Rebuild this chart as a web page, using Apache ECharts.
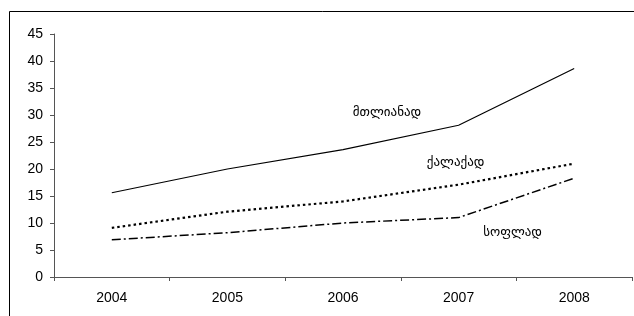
<!DOCTYPE html>
<html>
<head>
<meta charset="utf-8">
<script src="https://cdn.jsdelivr.net/npm/echarts@6/dist/echarts.min.js"></script>
<style>
  html, body { margin: 0; padding: 0; background: #fff; }
  #chart { width: 634px; height: 316px; }
</style>
</head>
<body>
<div id="chart"></div>
<script>
const years = ['2004', '2005', '2006', '2007', '2008']
const total = [15.6, 20.0, 23.6, 28.1, 38.6]
const urban = [9.1, 12.1, 14.0, 17.1, 21.0]
const rural = [6.9, 8.2, 10.0, 11.0, 18.3]
const yTicks = [0, 5, 10, 15, 20, 25, 30, 35, 40, 45]

const labelFont = { fontFamily: 'DejaVu Sans', fontSize: 13, color: '#000' }

// text tag placed in data space next to each line
function tag(name, coord, offset) {
  return {
    symbol: 'circle',
    symbolSize: 1,
    itemStyle: { color: 'rgba(0,0,0,0)' },
    data: [{ name: name, coord: coord }],
    label: Object.assign({ show: true, position: 'inside', formatter: name, offset: offset }, labelFont)
  }
}

const chart = echarts.init(document.getElementById('chart'))
chart.setOption({
  animation: false,
  backgroundColor: '#fff',
  graphic: [{
    type: 'rect',
    shape: { x: 9.5, y: 11.5, width: 640, height: 320 },
    style: { fill: 'none', stroke: '#000', lineWidth: 1 },
    silent: true
  }],
  grid: { left: 54, right: 2, top: 34, bottom: 39 },
  xAxis: {
    type: 'category',
    data: years,
    boundaryGap: true,
    axisLine: { lineStyle: { color: '#555', width: 1 } },
    axisTick: { show: true, length: 4, lineStyle: { color: '#555' } },
    axisLabel: { margin: 14, fontFamily: 'Liberation Sans', fontSize: 14, color: '#000' }
  },
  yAxis: {
    type: 'value',
    min: yTicks[0],
    max: yTicks[yTicks.length - 1],
    interval: 5,
    splitLine: { show: false },
    axisLine: { show: true, lineStyle: { color: '#555', width: 1 } },
    axisTick: { show: true, length: 4, lineStyle: { color: '#555' } },
    axisLabel: { margin: 11, fontFamily: 'Liberation Sans', fontSize: 14, color: '#000' }
  },
  series: [
    {
      name: 'მთლიანად',
      type: 'line',
      data: total,
      symbol: 'none',
      lineStyle: { color: '#000', width: 1.2, type: 'solid' },
      markPoint: tag('მთლიანად', ['2006', 30.4], [44, 0])
    },
    {
      name: 'ქალაქად',
      type: 'line',
      data: urban,
      symbol: 'none',
      lineStyle: { color: '#000', width: 2.2, type: [2.5, 3] },
      markPoint: tag('ქალაქად', ['2007', 21.1], [-3, 0])
    },
    {
      name: 'სოფლად',
      type: 'line',
      data: rural,
      symbol: 'none',
      lineStyle: { color: '#000', width: 1.5, type: [9, 3, 2, 3] },
      markPoint: tag('სოფლად', ['2007', 8.2], [54, 0])
    }
  ]
})
window.addEventListener('resize', () => {
  chart.resize()
})
</script>
</body>
</html>
